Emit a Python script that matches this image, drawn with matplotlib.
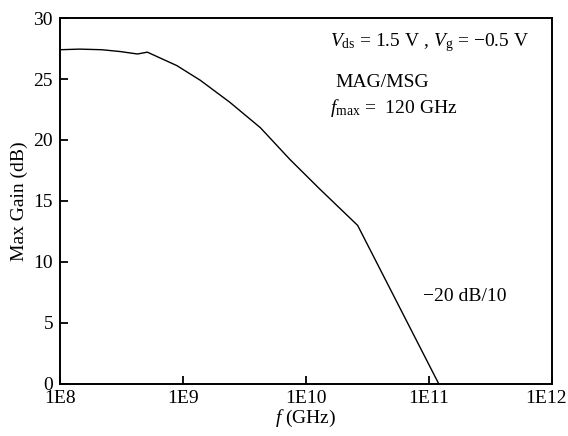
import matplotlib
matplotlib.use("Agg")
import matplotlib.pyplot as plt
import matplotlib.transforms as mtransforms
import numpy as np

plt.rcParams['font.family'] = ['Liberation Serif', 'DejaVu Serif']
plt.rcParams['mathtext.fontset'] = 'custom'
plt.rcParams['mathtext.rm'] = 'Liberation Serif'
plt.rcParams['mathtext.it'] = 'Liberation Serif:italic'

# data: log10(frequency in Hz) and max gain (dB)
log_freq = [8.0, 8.16, 8.34, 8.49, 8.63, 8.71, 8.95, 9.14, 9.38, 9.63, 9.87, 10.11, 10.42, 11.08]
gain_db = [27.4, 27.45, 27.4, 27.25, 27.05, 27.2, 26.1, 24.9, 23.1, 21.0, 18.4, 16.0, 13.0, 0.0]

x_ticks = [1e8, 1e9, 1e10, 1e11, 1e12]
x_tick_labels = ['1E8', '1E9', '1E10', '1E11', '1E12']
y_ticks = [0, 5, 10, 15, 20, 25, 30]

freq = [10 ** v for v in log_freq]

fig = plt.figure(figsize=(5.68, 4.36), dpi=100)
ax = fig.add_axes([0.1056, 0.1193, 0.8662, 0.8394])
ax.plot(freq, gain_db, color='black', lw=1.0)
ax.set_xscale('log')
ax.set_xlim(1e8, 1e12)
ax.set_ylim(0, 30)
ax.set_xticks(x_ticks)
ax.set_xticklabels(x_tick_labels)
ax.set_yticks(y_ticks)
ax.minorticks_off()
ax.tick_params(direction='in', length=6, width=1.3, labelsize=14, top=False, right=False)
ax.tick_params(axis='x', pad=4)
ax.tick_params(axis='y', pad=5)
for s in ax.spines.values():
    s.set_linewidth(1.4)
ax.set_xlabel(r'$f$ (GHz)', fontsize=14, labelpad=1)
ax.set_ylabel('Max Gain (dB)', fontsize=14, labelpad=4)

# shift last x tick label left so it fits in the figure
last = ax.get_xticklabels()[-1]
last.set_transform(last.get_transform() + mtransforms.ScaledTranslation(-6 / 100, 0, fig.dpi_scale_trans))

ax.text(0.549, 0.934, r'$V_{\rm ds}$ = 1.5 V , $V_{\rm g}$ = −0.5 V', transform=ax.transAxes, fontsize=14, va='center')
ax.text(0.559, 0.825, 'MAG/MSG', transform=ax.transAxes, fontsize=14, va='center')
ax.text(0.549, 0.754, r'$f_{\rm max}$ =  120 GHz', transform=ax.transAxes, fontsize=14, va='center')
ax.text(0.737, 0.24, '−20 dB/10', transform=ax.transAxes, fontsize=14, va='center')

fig.savefig('out.png', dpi=100)
